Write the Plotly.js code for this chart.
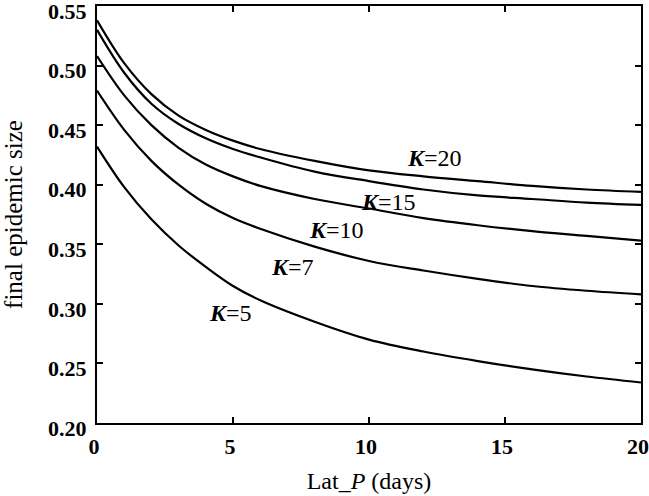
<!DOCTYPE html>
<html>
<head>
<meta charset="utf-8">
<script src="https://cdn.plot.ly/plotly-3.0.1.min.js"></script>
<style>html,body{margin:0;padding:0;background:#fff;}#chart{width:649px;height:496px;}</style>
</head>
<body>
<div id="chart"></div>
<script>
// Lat_P (days)
const latP = [0, 1, 2, 3, 4, 5, 6, 8, 10, 12, 14, 16, 18, 20];
// final epidemic size for each K
const sizeK20 = [0.538, 0.502, 0.476, 0.458, 0.446, 0.437, 0.430, 0.420, 0.412, 0.407, 0.403, 0.399, 0.396, 0.394];
const sizeK15 = [0.530, 0.494, 0.468, 0.451, 0.439, 0.430, 0.423, 0.411, 0.403, 0.396, 0.391, 0.388, 0.385, 0.383];
const sizeK10 = [0.508, 0.475, 0.450, 0.431, 0.417, 0.407, 0.399, 0.388, 0.380, 0.372, 0.366, 0.361, 0.357, 0.353];
const sizeK7  = [0.479, 0.446, 0.420, 0.400, 0.384, 0.372, 0.363, 0.348, 0.336, 0.328, 0.321, 0.315, 0.311, 0.308];
const sizeK5  = [0.432, 0.398, 0.371, 0.349, 0.331, 0.315, 0.303, 0.285, 0.270, 0.260, 0.252, 0.245, 0.239, 0.234];
const seriesNames = ['K=20', 'K=15', 'K=10', 'K=7', 'K=5'];
const labelKValues = ['20', '15', '10', '7', '5'];
const labelX = [12.4, 10.7, 8.8, 7.2, 4.9];
const labelY = [0.4224, 0.3858, 0.362, 0.331, 0.292];
const xTicks = [0, 5, 10, 15, 20];
const yTicks = [0.20, 0.25, 0.30, 0.35, 0.40, 0.45, 0.50, 0.55];

const allSeries = [sizeK20, sizeK15, sizeK10, sizeK7, sizeK5];
const traces = allSeries.map((ys, i) => ({
  x: latP, y: ys, type: 'scatter', mode: 'lines', name: seriesNames[i],
  line: {color: '#000', width: 2.2, shape: 'spline', smoothing: 1},
  showlegend: false, hoverinfo: 'skip'
}));

const fontFam = '"Liberation Serif", "Times New Roman", serif';
const annotations = labelKValues.map((k, i) => ({
  x: labelX[i], y: labelY[i], xref: 'x', yref: 'y', showarrow: false,
  text: '<b><i>K</i></b>=' + k,
  font: {family: fontFam, size: 24, color: '#000'}
}));

const layout = {
  width: 649, height: 496,
  margin: {l: 97, r: 8, t: 6, b: 73},
  paper_bgcolor: '#fff', plot_bgcolor: '#fff',
  font: {family: fontFam, color: '#000'},
  xaxis: {
    range: [0, 20], tickvals: xTicks, ticktext: xTicks.map(String),
    showgrid: false, zeroline: false,
    showline: true, linecolor: '#000', linewidth: 2, mirror: 'ticks',
    ticks: 'inside', ticklen: 6, tickwidth: 2, tickcolor: '#000',
    ticklabeloverflow: 'allow', ticklabelshift: -3, ticklabelstandoff: 3,
    tickfont: {family: fontFam, size: 22, color: '#000', weight: 'bold'},
    title: {text: 'Lat_<i>P</i> (days)', font: {family: fontFam, size: 24, color: '#000'}, standoff: 14}
  },
  yaxis: {
    range: [0.20, 0.55], tickvals: yTicks, ticktext: yTicks.map(v => v.toFixed(2)),
    showgrid: false, zeroline: false,
    showline: true, linecolor: '#000', linewidth: 2, mirror: 'ticks',
    ticks: 'inside', ticklen: 6, tickwidth: 2, tickcolor: '#000',
    ticklabeloverflow: 'allow', ticklabelshift: 5, ticklabelstandoff: 4,
    tickfont: {family: fontFam, size: 22, color: '#000', weight: 'bold'},
    title: {text: 'final epidemic size', font: {family: fontFam, size: 25, color: '#000'}, standoff: 18}
  },
  annotations: annotations
};

Plotly.newPlot('chart', traces, layout, {displayModeBar: false, staticPlot: true});
</script>
</body>
</html>
